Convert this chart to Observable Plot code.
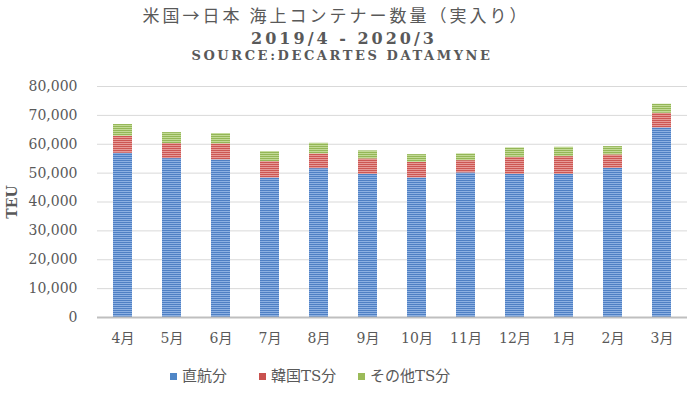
<!DOCTYPE html>
<html>
<head>
<meta charset="utf-8">
<script src="https://cdn.jsdelivr.net/npm/d3@7"></script>
<script src="https://cdn.jsdelivr.net/npm/@observablehq/plot@0.6"></script>
<style>
  html, body { margin: 0; padding: 0; background: #fff; }
  #page { position: relative; width: 700px; height: 394px; overflow: hidden; }
  .t { position: absolute; left: 0; width: 700px; text-align: center; color: #595959; white-space: nowrap; }
  #t1 { top: 4px; font-family: "Noto Sans CJK JP", sans-serif; font-size: 17px; letter-spacing: 3px; line-height: 22px; margin-left: -14px; }
  #t2 { top: 29px; font-family: "DejaVu Serif", serif; font-weight: bold; font-size: 16px; letter-spacing: 3px; line-height: 20px; margin-left: -6px; }
  #t3 { top: 48px; font-family: "DejaVu Serif", serif; font-weight: bold; font-size: 13px; letter-spacing: 2.6px; line-height: 16px; margin-left: -8px; }
  #chart { position: absolute; left: 0; top: 70px; }
  .lg { position: absolute; top: 366px; font-family: "DejaVu Serif", "Noto Sans CJK JP", serif; font-size: 15px; color: #595959; line-height: 20px; white-space: nowrap; }
  .sw { display: inline-block; width: 7px; height: 7px; margin-right: 5px; vertical-align: 1px; }
</style>
</head>
<body>
<div id="page">
  <div class="t" id="t1">米国→日本 海上コンテナー数量（実入り）</div>
  <div class="t" id="t2">2019/4 - 2020/3</div>
  <div class="t" id="t3">SOURCE:DECARTES DATAMYNE</div>
  <div id="chart"></div>
  <div id="legend"></div>
</div>
<script>
const months = ["4月","5月","6月","7月","8月","9月","10月","11月","12月","1月","2月","3月"];
const seriesNames = ["直航分","韓国TS分","その他TS分"];
const direct = [56870, 55030, 54580, 48330, 51560, 49580, 48340, 50070, 49580, 49580, 51660, 65670];
const korea  = [5900, 5200, 5540, 5660, 5100, 5340, 5400, 4260, 5900, 6140, 4650, 5060];
const other  = [4060, 3810, 3580, 3460, 3670, 2780, 2670, 2330, 3260, 3230, 2880, 3130];
const yTicks = [0, 10000, 20000, 30000, 40000, 50000, 60000, 70000, 80000];

const seriesValues = [direct, korea, other];
const patterns = [
  {id: "pBlue",  dark: "#4f80c4", light: "#8cb0e2", solid: "#4f86c6"},
  {id: "pRed",   dark: "#cc5753", light: "#e79a97", solid: "#c9524f"},
  {id: "pGreen", dark: "#94b656", light: "#c2da96", solid: "#9bbb59"}
];

const data = [];
seriesNames.forEach((s, si) => {
  months.forEach((m, mi) => data.push({month: m, series: s, value: seriesValues[si][mi]}));
});

const svg = Plot.plot({
  width: 700,
  height: 290,
  marginTop: 16,
  marginBottom: 43,
  marginLeft: 97,
  marginRight: 13,
  style: {fontFamily: "'DejaVu Serif', 'Noto Sans CJK JP', serif", fontSize: "14px", color: "#595959", background: "white"},
  x: {domain: months, paddingInner: 0.61, paddingOuter: 0.305, label: null},
  y: {domain: [0, 80000], ticks: yTicks, label: null},
  color: {domain: seriesNames, range: patterns.map(p => `url(#${p.id})`)},
  marks: [
    Plot.gridY(yTicks.slice(1), {stroke: "#d9d9d9", strokeOpacity: 1, strokeWidth: 1}),
    Plot.barY(data, {x: "month", y: "value", fill: "series", order: seriesNames}),
    Plot.ruleY([0], {stroke: "#bfbfbf", strokeWidth: 2}),
    Plot.axisY(yTicks, {tickSize: 0, tickPadding: 20, tickFormat: d3.format(","), label: "TEU", labelAnchor: "center", labelArrow: "none", labelOffset: 90, fontSize: 14}),
    Plot.axisX({tickSize: 0, tickPadding: 16, fontSize: 14})
  ]
});

const defs = d3.select(svg).insert("defs", ":first-child");
patterns.forEach(p => {
  const pat = defs.append("pattern").attr("id", p.id).attr("patternUnits", "userSpaceOnUse")
    .attr("width", 4).attr("height", 2);
  pat.append("rect").attr("width", 4).attr("height", 2).attr("fill", p.light);
  pat.append("rect").attr("width", 4).attr("height", 1).attr("fill", p.dark);
});
// bold axis title
d3.select(svg).selectAll("g[aria-label='y-axis label'] text").attr("font-weight", "bold");

document.getElementById("chart").appendChild(svg);

const legendX = [170, 259, 358];
const lg = document.getElementById("legend");
seriesNames.forEach((s, i) => {
  const d = document.createElement("div");
  d.className = "lg";
  d.style.left = legendX[i] + "px";
  d.innerHTML = `<span class="sw" style="background:${patterns[i].solid}"></span>${s}`;
  lg.appendChild(d);
});
</script>
</body>
</html>
